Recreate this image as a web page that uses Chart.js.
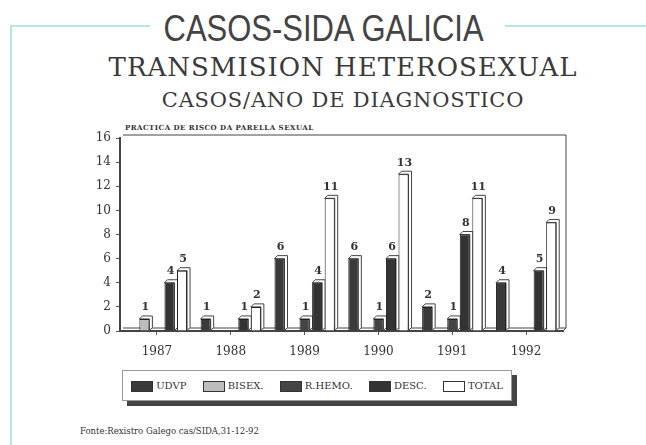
<!DOCTYPE html>
<html>
<head>
<meta charset="utf-8">
<script src="https://cdn.jsdelivr.net/npm/chart.js@4"></script>
<style>
  body{margin:0;width:646px;height:445px;background:#fff;position:relative;overflow:hidden;font-family:"DejaVu Serif",serif;color:#333}
  .cyan{position:absolute;background:#b4e6e6}
  #t1{position:absolute;left:0;width:646px;top:8px;text-align:center;font-family:"Liberation Sans",sans-serif;font-size:36px;color:#444;transform:scaleX(0.86);transform-origin:327px 0}
  #t2{position:absolute;left:0;width:686px;top:52px;text-align:center;font-size:26px;color:#3a3a3a;letter-spacing:1px}
  #t3{position:absolute;left:0;width:686px;top:88px;text-align:center;font-size:21px;color:#3a3a3a;letter-spacing:0.8px}
  #sub{position:absolute;left:125px;top:123px;font-size:7px;font-weight:bold;color:#333;letter-spacing:0.5px}
  #chartBox{position:absolute;left:70px;top:118px;width:510px;height:250px}
  #legend{position:absolute;left:122px;top:370px;width:388px;height:29px;border:1px solid #999;box-shadow:5px 5px 0 #444;background:#fff;display:flex;align-items:center;justify-content:space-around;font-size:10px}
  #legend span.sw{display:inline-block;width:20px;height:9px;border:1px solid #333;vertical-align:middle;margin-right:3px}
  #foot{position:absolute;left:80px;top:426px;font-size:8.5px;color:#333}
</style>
</head>
<body>
<div class="cyan" style="left:10px;top:25px;width:140px;height:2px"></div>
<div class="cyan" style="left:505px;top:25px;width:141px;height:2px"></div>
<div class="cyan" style="left:10px;top:25px;width:2px;height:420px"></div>
<div id="t1">CASOS-SIDA GALICIA</div>
<div id="t2">TRANSMISION HETEROSEXUAL</div>
<div id="t3">CASOS/ANO DE DIAGNOSTICO</div>
<div id="sub">PRACTICA DE RISCO DA PARELLA SEXUAL</div>
<div id="chartBox"><canvas id="chart"></canvas></div>
<div id="legend"></div>
<div id="foot">Fonte:Rexistro Galego cas/SIDA,31-12-92</div>
<script>
const years = ['1987','1988','1989','1990','1991','1992'];
const seriesNames = ['UDVP','BISEX.','R.HEMO.','DESC.','TOTAL'];
const udvp  = [0,1,6,6,2,4];
const bisex = [1,0,0,0,0,0];
const rhemo = [0,0,1,1,1,0];
const desc  = [4,1,4,6,8,5];
const total = [5,2,11,13,11,9];
const yTicks = [0,2,4,6,8,10,12,14,16];

const colors = ['#3a3a3a','#bdbdbd','#444444','#333333','#ffffff'];
const values = [udvp,bisex,rhemo,desc,total];
const depth = 3;

// legend
const legend = document.getElementById('legend');
seriesNames.forEach(function(n,i){
  let item = document.createElement('div');
  item.innerHTML = '<span class="sw" style="background:'+colors[i]+'"></span>'+n;
  legend.appendChild(item);
});

// 3d faces behind bars, labels on top
const box3d = {
  id:'box3d',
  beforeDatasetsDraw(chart){
    const ctx = chart.ctx, a = chart.chartArea;
    ctx.save();
    ctx.strokeStyle = '#444';
    ctx.lineWidth = 1;
    // back wall frame
    ctx.beginPath();
    ctx.moveTo(a.left+depth, a.top-depth);
    ctx.lineTo(a.right+depth, a.top-depth);
    ctx.lineTo(a.right+depth, a.bottom-depth);
    ctx.stroke();
    ctx.beginPath();
    ctx.moveTo(a.left+depth, a.bottom-depth);
    ctx.lineTo(a.right+depth, a.bottom-depth);
    ctx.lineTo(a.right, a.bottom);
    ctx.stroke();
    chart.data.datasets.forEach(function(ds,di){
      chart.getDatasetMeta(di).data.forEach(function(bar,i){
        if(!ds.data[i]) return;
        const l = bar.x - bar.width/2, r = bar.x + bar.width/2, t = bar.y, b = bar.base;
        ctx.fillStyle = '#fff';
        ctx.beginPath();
        ctx.moveTo(l,t); ctx.lineTo(l+depth,t-depth); ctx.lineTo(r+depth,t-depth);
        ctx.lineTo(r+depth,b-depth); ctx.lineTo(r,b); ctx.lineTo(r,t); ctx.closePath();
        ctx.fill(); ctx.stroke();
      });
    });
    ctx.restore();
  },
  afterDatasetsDraw(chart){
    const ctx = chart.ctx;
    ctx.save();
    ctx.fillStyle = '#333';
    ctx.font = 'bold 11px "DejaVu Serif"';
    ctx.textAlign = 'center';
    ctx.textBaseline = 'bottom';
    chart.data.datasets.forEach(function(ds,di){
      chart.getDatasetMeta(di).data.forEach(function(bar,i){
        if(!ds.data[i]) return;
        ctx.fillText(ds.data[i], bar.x+1, bar.y-6);
      });
    });
    ctx.restore();
  }
};

const chart = new Chart(document.getElementById('chart'), {
  type:'bar',
  data:{
    labels:years,
    datasets: seriesNames.map(function(n,i){
      return {label:n, data:values[i], backgroundColor:colors[i], borderColor:'#222', borderWidth:1,
        categoryPercentage:0.85, barPercentage:0.8};
    })
  },
  options:{
    responsive:true,
    maintainAspectRatio:false,
    animation:false,
    layout:{padding:{top:20,right:17,left:0,bottom:0}},
    plugins:{legend:{display:false},tooltip:{enabled:false}},
    scales:{
      x:{
        grid:{drawOnChartArea:false,offset:false,tickLength:4,color:'#555'},
        border:{color:'#444',width:2},
        ticks:{color:'#333',font:{family:'DejaVu Serif',size:12},padding:10},
        afterFit(s){ s.height = 37; }
      },
      y:{
        min:0,max:16,
        afterBuildTicks(s){ s.ticks = yTicks.map(function(v){return {value:v};}); },
        grid:{drawOnChartArea:false,tickLength:4,color:'#555'},
        border:{color:'#444',width:2},
        ticks:{color:'#333',font:{family:'DejaVu Serif',size:12},padding:5},
        afterFit(s){ s.width = 50; }
      }
    }
  },
  plugins:[box3d]
});
</script>
</body>
</html>
